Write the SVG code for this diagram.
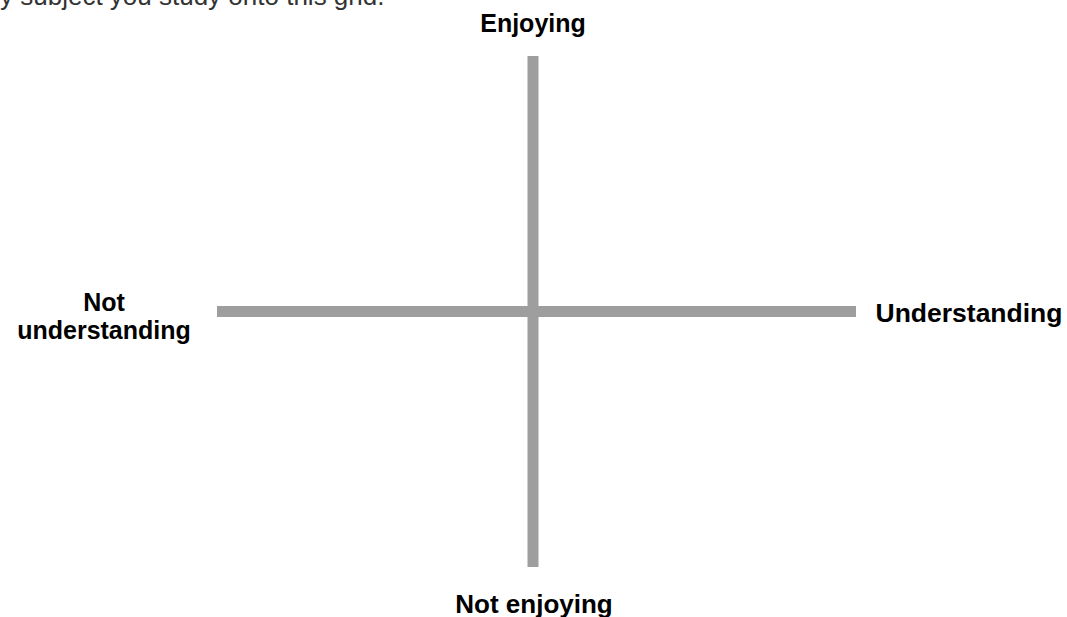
<svg xmlns="http://www.w3.org/2000/svg" width="1067" height="617" viewBox="0 0 1067 617">
<style>
.lbl{font-family:"Liberation Sans",Arial,sans-serif;font-weight:bold;fill:#000;text-anchor:middle}
.cap{font-family:"Liberation Sans",Arial,sans-serif;fill:#333}
.axis{stroke:#9e9e9e;stroke-width:11;fill:none}
</style>
<rect width="1067" height="617" fill="#fff"/>
<text class="cap" x="0" y="5" font-size="26">y subject you study onto this grid.</text>
<g id="connectors">
<line class="axis" x1="533" y1="56" x2="533" y2="567"/>
<line class="axis" x1="217" y1="311.5" x2="856" y2="311.5"/>
</g>
<g id="enjoying"><text class="lbl" x="533" y="32" font-size="25">Enjoying</text></g>
<g id="not-enjoying"><text class="lbl" x="534" y="613" font-size="26">Not enjoying</text></g>
<g id="not-understanding"><text class="lbl" x="104" y="311" font-size="25">Not</text><text class="lbl" x="104" y="339" font-size="25">understanding</text></g>
<g id="understanding"><text class="lbl" x="969" y="322" font-size="26.5">Understanding</text></g>
</svg>
